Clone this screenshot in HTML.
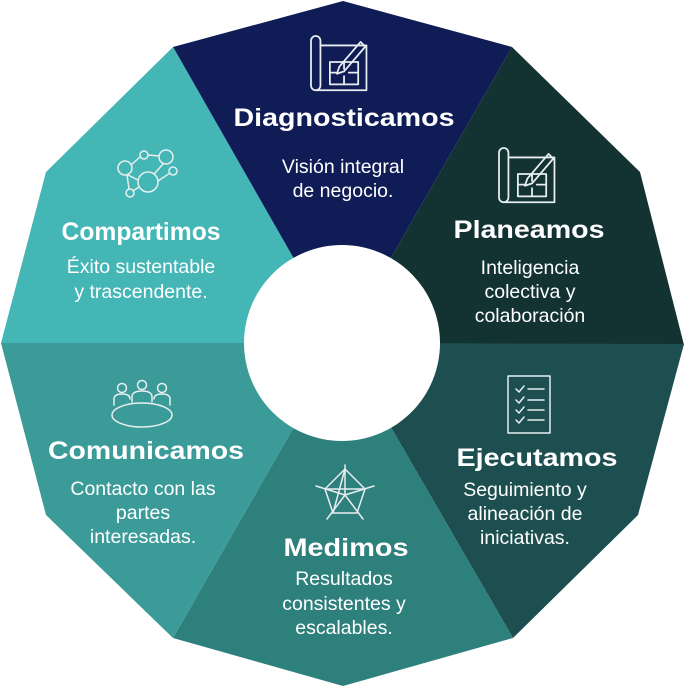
<!DOCTYPE html>
<html><head><meta charset="utf-8"><style>
html,body{margin:0;padding:0;background:#fff;}
svg{display:block;}
.h{font-family:"Liberation Sans",sans-serif;font-weight:bold;font-size:25px;fill:#fff;text-anchor:middle;}
.b{font-family:"Liberation Sans",sans-serif;font-size:19.5px;fill:#fff;text-anchor:middle;}
.i{fill:none;stroke:#e8eef0;stroke-width:1.5;stroke-linecap:round;stroke-linejoin:round;}
</style></head><body>
<svg width="685" height="686" viewBox="0 0 685 686" xmlns="http://www.w3.org/2000/svg">
<polygon points="342,343 173,47 343,1 512,47" fill="#101c55"/>
<polygon points="342,343 512,47 640,172 684,345" fill="#133232"/>
<polygon points="342,343 684,344 638,515 513,638" fill="#1d4f50"/>
<polygon points="342,343 513,638 343,686 173,638" fill="#2e807d"/>
<polygon points="342,343 173,638 46,515 1,343" fill="#3a9b98"/>
<polygon points="342,343 1,343 46,172 173,47" fill="#44b6b5"/>
<circle cx="342" cy="343" r="98" fill="#fff"/>

<g class="i" transform="translate(311,36) scale(1.18)">
<rect x="0" y="0" width="8" height="46" rx="4"/><path d="M4,46 H47 V8 H8"/>
<rect x="16" y="22" width="24" height="19"/><path d="M16,31 H22 M28,22 V28 M28,34 V41 M32,31 H40"/>
<path d="M24,26 L42,5 L46,9 L28,30 L22,32 Z"/>
</g>
<g class="i" transform="translate(499,148) scale(1.18)">
<rect x="0" y="0" width="8" height="46" rx="4"/><path d="M4,46 H47 V8 H8"/>
<rect x="16" y="22" width="24" height="19"/><path d="M16,31 H22 M28,22 V28 M28,34 V41 M32,31 H40"/>
<path d="M24,26 L42,5 L46,9 L28,30 L22,32 Z"/>
</g>
<g class="i" transform="translate(508,376)">
<rect x="0" y="0" width="42" height="57"/>
<path d="M8,13 l3,3 l5,-6 M20,13 H36 M8,24 l3,3 l5,-6 M20,24 H36 M8,34 l3,3 l5,-6 M20,34 H36 M8,44 l3,3 l5,-6 M20,44 H36"/>
</g>
<g class="i" transform="translate(345,495)">
<path d="M0,-30 V0 M0,0 L29,-9 M0,0 L18,24 M0,0 L-18,24 M0,0 L-29,-9"/>
<path d="M0,-26 L20,-6 L12,18 L-12,18 L-20,-6 Z"/>
<path d="M0,-26 L-12,18 M20,-6 L-20,-6"/>
</g>
<g class="i" transform="translate(142,405)">
<ellipse cx="0" cy="10" rx="30" ry="12"/>
<circle cx="-20" cy="-17" r="4.5"/><circle cx="0" cy="-20" r="4.5"/><circle cx="20" cy="-17" r="4.5"/>
<path d="M-28,0 V-6 q0,-5 8,-5 q8,0 8,5 M-10,-3 V-8 q0,-6 10,-6 q10,0 10,6 V-3 M12,-6 q0,-5 8,-5 q8,0 8,5 V0"/>
</g>
<g class="i" transform="translate(148,175)">
<circle cx="0" cy="7" r="10"/><circle cx="-23" cy="-7" r="7"/><circle cx="-4" cy="-20" r="4"/>
<circle cx="18" cy="-18" r="7"/><circle cx="25" cy="-4" r="4"/><circle cx="-18" cy="18" r="4"/>
<path d="M-17,-10 L-8,-18 M0,-20 L11,-19 M15,-11 L6,-1 M10,6 L22,-2 M-20,0 L-10,5 M-21,0 L-19,14 M-15,16 L-9,12"/>
</g>

<text class="h" x="344" y="126" textLength="221" lengthAdjust="spacingAndGlyphs">Diagnosticamos</text>
<text class="b" x="343" y="173">Visión integral</text>
<text class="b" x="343" y="197">de negocio.</text>

<text class="h" x="529" y="238" textLength="151" lengthAdjust="spacingAndGlyphs">Planeamos</text>
<text class="b" x="530" y="274">Inteligencia</text>
<text class="b" x="530" y="298">colectiva y</text>
<text class="b" x="530" y="322">colaboración</text>

<text class="h" x="537" y="466" textLength="161" lengthAdjust="spacingAndGlyphs">Ejecutamos</text>
<text class="b" x="525" y="496">Seguimiento y</text>
<text class="b" x="525" y="520">alineación de</text>
<text class="b" x="525" y="544">iniciativas.</text>

<text class="h" x="346" y="556" textLength="125" lengthAdjust="spacingAndGlyphs">Medimos</text>
<text class="b" x="344" y="585">Resultados</text>
<text class="b" x="344" y="610">consistentes y</text>
<text class="b" x="344" y="634">escalables.</text>

<text class="h" x="146" y="459" textLength="196" lengthAdjust="spacingAndGlyphs">Comunicamos</text>
<text class="b" x="143" y="495">Contacto con las</text>
<text class="b" x="143" y="519">partes</text>
<text class="b" x="143" y="543">interesadas.</text>

<text class="h" x="141" y="240" textLength="159" lengthAdjust="spacingAndGlyphs">Compartimos</text>
<text class="b" x="141" y="273">Éxito sustentable</text>
<text class="b" x="141" y="298">y trascendente.</text>
</svg>
</body></html>
